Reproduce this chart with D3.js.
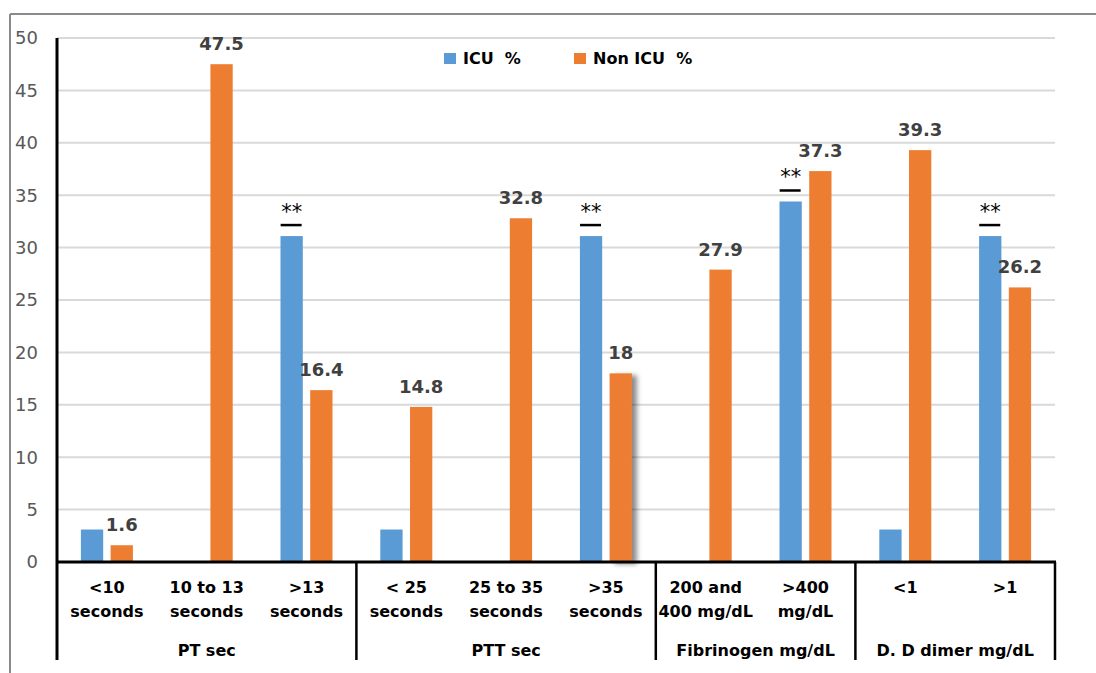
<!DOCTYPE html>
<html>
<head>
<meta charset="utf-8">
<script src="https://cdn.jsdelivr.net/npm/d3@7"></script>
<style>
  body { margin: 0; background: #fff; }
  text { font-family: "DejaVu Sans", sans-serif; }
</style>
</head>
<body>
<div id="chart"></div>
<script>
// categories (each one split into its printed lines)
var categories = ["<10 seconds", "10 to 13 seconds", ">13 seconds", "< 25 seconds", "25 to 35 seconds",
                  ">35 seconds", "200 and 400 mg/dL", ">400 mg/dL", "<1", ">1"];
var categoryLines = [["<10", "seconds"], ["10 to 13", "seconds"], [">13", "seconds"],
                     ["< 25", "seconds"], ["25 to 35", "seconds"], [">35", "seconds"],
                     ["200 and", "400 mg/dL"], [">400", "mg/dL"], ["<1"], [">1"]];
var groups = ["PT sec", "PTT sec", "Fibrinogen mg/dL", "D. D dimer mg/dL"];
var groupSizes = [3, 3, 2, 2];

var series = ["ICU  %", "Non ICU  %"];
var icuValues = [3.1, 0, 31.1, 3.1, 0, 31.1, 0, 34.4, 3.1, 31.1];
var nonIcuValues = [1.6, 47.5, 16.4, 14.8, 32.8, 18, 27.9, 37.3, 39.3, 26.2];
var significant = [false, false, true, false, false, true, false, true, false, true];
var yTicks = [0, 5, 10, 15, 20, 25, 30, 35, 40, 45, 50];

var width = 1096, height = 673;
var colors = ["#5B9BD5", "#ED7D31"];

var svg = d3.select("#chart").append("svg")
    .attr("width", width)
    .attr("height", height);

// outer frame (only top and left are visible)
svg.append("line").attr("x1", 10).attr("x2", width).attr("y1", 14).attr("y2", 14)
    .attr("stroke", "#8a8a8a").attr("stroke-width", 2);
svg.append("line").attr("x1", 10).attr("x2", 10).attr("y1", 14).attr("y2", height)
    .attr("stroke", "#8a8a8a").attr("stroke-width", 2);

var x = d3.scaleBand()
    .domain(categories)
    .range([57, 1055]);

var y = d3.scaleLinear()
    .domain([0, 50])
    .range([562, 38]);

var x1 = d3.scaleBand()
    .domain(series)
    .range([-26, 26])
    .paddingInner(0.25);

// gridlines
svg.append("g").selectAll("line")
    .data(yTicks.slice(1))
    .join("line")
    .attr("x1", 57).attr("x2", 1055)
    .attr("y1", d => y(d)).attr("y2", d => y(d))
    .attr("stroke", "#d9d9d9").attr("stroke-width", 2);

// y tick labels
svg.append("g").selectAll("text")
    .data(yTicks)
    .join("text")
    .attr("x", 38)
    .attr("y", d => y(d))
    .attr("dy", "0.36em")
    .attr("text-anchor", "end")
    .attr("fill", "#595959")
    .style("font-size", "18px")
    .text(d => d);

var defs = svg.append("defs");
defs.append("filter").attr("id", "shadow")
    .attr("x", "-50%").attr("y", "-10%").attr("width", "200%").attr("height", "120%")
    .append("feDropShadow")
    .attr("dx", 5).attr("dy", 2).attr("stdDeviation", 2.5)
    .attr("flood-color", "#000").attr("flood-opacity", 0.45);

var rows = categories.map(function(c, i) {
    return {cat: c, i: i, values: [icuValues[i], nonIcuValues[i]]};
});

// bars
var bars = svg.append("g");
rows.forEach(function(r) {
    var cx = x(r.cat) + x.bandwidth() / 2;
    series.forEach(function(s, k) {
        var v = r.values[k];
        if (!v) return;
        var rect = bars.append("rect")
            .attr("x", cx + x1(s))
            .attr("y", y(v))
            .attr("width", x1.bandwidth())
            .attr("height", y(0) - y(v))
            .attr("fill", colors[k]);
        if (k == 1 && r.cat == ">35 seconds") rect.attr("filter", "url(#shadow)");
    });
});

// value labels on Non ICU bars
svg.append("g").selectAll("text")
    .data(rows)
    .join("text")
    .attr("x", d => x(d.cat) + x.bandwidth() / 2 + x1(series[1]) + x1.bandwidth() / 2)
    .attr("y", d => y(d.values[1]) - 14)
    .attr("text-anchor", "middle")
    .attr("fill", "#404040")
    .style("font-size", "18px")
    .style("font-weight", "bold")
    .text(d => d.values[1]);

// significance marks on ICU bars
var sig = svg.append("g").selectAll("g")
    .data(rows.filter(d => significant[d.i]))
    .join("g")
    .attr("transform", d => "translate(" + (x(d.cat) + x.bandwidth() / 2 + x1(series[0]) + x1.bandwidth() / 2) +
        "," + (y(d.values[0]) - 11) + ")");
sig.append("line")
    .attr("x1", -11).attr("x2", 10)
    .attr("stroke", "#000").attr("stroke-width", 2.5);
sig.append("text")
    .attr("y", -6)
    .attr("text-anchor", "middle")
    .style("font-size", "21px")
    .text("**");

// axes lines
svg.append("line").attr("x1", 57).attr("x2", 57).attr("y1", 38).attr("y2", 660)
    .attr("stroke", "#000").attr("stroke-width", 3);
svg.append("line").attr("x1", 56).attr("x2", 1056).attr("y1", y(0)).attr("y2", y(0))
    .attr("stroke", "#000").attr("stroke-width", 3);

// group separators and labels
var start = 0;
groups.forEach(function(g, gi) {
    var end = start + groupSizes[gi];
    var x0 = x(categories[start]);
    var xEnd = end < categories.length ? x(categories[end]) : x.range()[1];
    svg.append("line").attr("x1", xEnd).attr("x2", xEnd).attr("y1", y(0)).attr("y2", 660)
        .attr("stroke", "#000").attr("stroke-width", 2.5);
    svg.append("text")
        .attr("x", (x0 + xEnd) / 2)
        .attr("y", 656)
        .attr("text-anchor", "middle")
        .style("font-size", "16px")
        .style("font-weight", "bold")
        .text(g);
    start = end;
});

// category labels
var catText = svg.append("g").selectAll("text")
    .data(rows)
    .join("text")
    .attr("text-anchor", "middle")
    .style("font-size", "16px")
    .style("font-weight", "bold");
catText.selectAll("tspan")
    .data(d => categoryLines[d.i].map(l => ({l: l, cx: x(d.cat) + x.bandwidth() / 2})))
    .join("tspan")
    .attr("x", d => d.cx)
    .attr("y", (d, j) => 593 + j * 24)
    .text(d => d.l);

// legend
var legendX = [444, 574];
var legend = svg.append("g").selectAll("g")
    .data(series)
    .join("g")
    .attr("transform", (d, k) => "translate(" + legendX[k] + ",53)");
legend.append("rect")
    .attr("width", 12).attr("height", 11)
    .attr("fill", (d, k) => colors[k]);
legend.append("text")
    .attr("x", 19).attr("y", 11)
    .style("font-size", "16px")
    .style("font-weight", "bold")
    .style("white-space", "pre")
    .attr("xml:space", "preserve")
    .text(d => d);
</script>
</body>
</html>
